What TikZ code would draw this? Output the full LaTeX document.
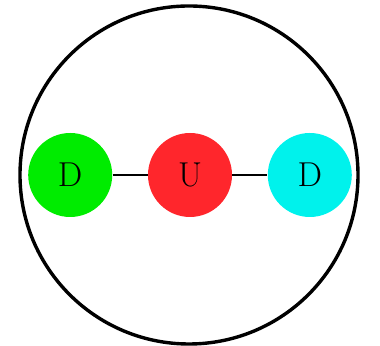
\documentclass[tikz,border=0pt]{standalone}
\usepackage{tikz}
\usetikzlibrary{positioning}

\definecolor{quarkGreen}{RGB}{0,236,0}
\definecolor{quarkRed}{RGB}{255,38,44}
\definecolor{quarkCyan}{RGB}{0,242,236}

\begin{document}
\begin{tikzpicture}[
            x=0.5pt, y=0.5pt,
            node distance=17.5pt,
            quark/.style={
                    circle,
                    draw=none,
                    minimum size=42pt,
                    inner sep=0pt,
                    font=\LARGE
                },
            bond/.style={
                    draw=black,
                    line width=1.2pt
                },
            hadron/.style={
                    draw=black,
                    line width=1.7pt
                }
            ]

            \useasboundingbox (-189,-171) rectangle (191,175);

            % Contorno del hadrón
            \draw[hadron] (0,0) circle (169);

            % Quarks
            \node[quark, fill=quarkRed] (quarkU) at (1,0) {U};
            \node[quark, fill=quarkGreen, left=of quarkU] (quarkDLeft) {D};
            \node[quark, fill=quarkCyan, right=of quarkU] (quarkDRight) {D};

            % Enlaces
            \draw[bond] (quarkDLeft) -- (quarkU);
            \draw[bond] (quarkU) -- (quarkDRight);

        \end{tikzpicture}
\end{document}
